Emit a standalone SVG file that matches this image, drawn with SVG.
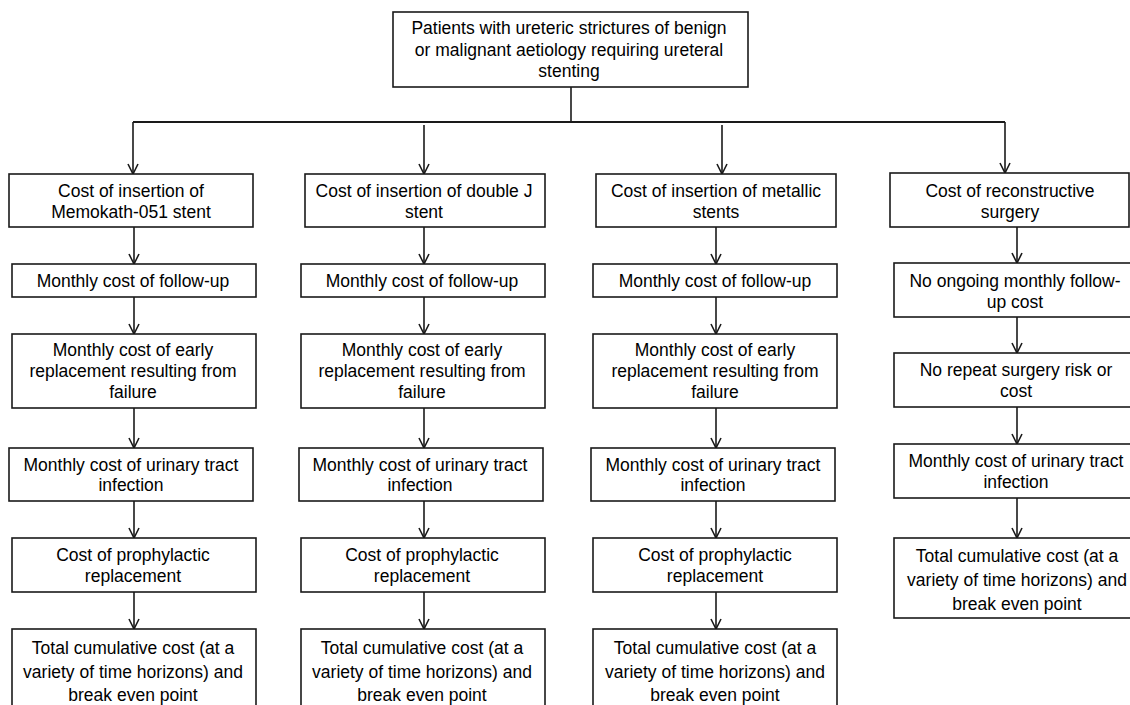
<svg xmlns="http://www.w3.org/2000/svg" width="1130" height="705" viewBox="0 0 1130 705">
<style>
.box{fill:#fff;stroke:#1a1a1a;stroke-width:1.6}
.t{font-family:"Liberation Sans",Arial,sans-serif;font-size:17.5px;fill:#000;text-anchor:middle}
.c{fill:none;stroke:#1a1a1a;stroke-width:1.6}
.h{fill:none;stroke:#1a1a1a;stroke-width:2.2}
</style>
<defs>
<marker id="arr" viewBox="0 0 12 12" refX="11" refY="6" markerWidth="12" markerHeight="12" markerUnits="userSpaceOnUse" orient="auto">
<path d="M1,1 L11,6 L1,11" fill="none" stroke="#1a1a1a" stroke-width="1.6"/>
</marker>
</defs>
<rect width="1130" height="705" fill="#fff"/>

<g id="connectors">
<path class="c" d="M571,87 V122"/>
<path class="h" d="M133,122 H1005"/>
<path class="c" d="M133,122 V174" marker-end="url(#arr)"/>
<path class="c" d="M424,125 V174" marker-end="url(#arr)"/>
<path class="c" d="M722,125 V174" marker-end="url(#arr)"/>
<path class="c" d="M1005,122 V173" marker-end="url(#arr)"/>

<path class="c" d="M134,227 V264" marker-end="url(#arr)"/>
<path class="c" d="M134,297 V334" marker-end="url(#arr)"/>
<path class="c" d="M134,408 V448" marker-end="url(#arr)"/>
<path class="c" d="M134,501 V538" marker-end="url(#arr)"/>
<path class="c" d="M134,592 V629" marker-end="url(#arr)"/>

<path class="c" d="M424,227 V264" marker-end="url(#arr)"/>
<path class="c" d="M424,297 V334" marker-end="url(#arr)"/>
<path class="c" d="M424,408 V448" marker-end="url(#arr)"/>
<path class="c" d="M424,501 V538" marker-end="url(#arr)"/>
<path class="c" d="M424,592 V629" marker-end="url(#arr)"/>

<path class="c" d="M716,227 V264" marker-end="url(#arr)"/>
<path class="c" d="M716,297 V334" marker-end="url(#arr)"/>
<path class="c" d="M716,408 V448" marker-end="url(#arr)"/>
<path class="c" d="M716,501 V538" marker-end="url(#arr)"/>
<path class="c" d="M716,592 V629" marker-end="url(#arr)"/>

<path class="c" d="M1017,227 V263" marker-end="url(#arr)"/>
<path class="c" d="M1017,317 V353" marker-end="url(#arr)"/>
<path class="c" d="M1017,407 V444" marker-end="url(#arr)"/>
<path class="c" d="M1017,498 V538" marker-end="url(#arr)"/>
</g>

<g id="root">
<rect class="box" x="393" y="12" width="355" height="75"/>
<text class="t" x="569" y="34">Patients with ureteric strictures of benign</text>
<text class="t" x="569" y="56">or malignant aetiology requiring ureteral</text>
<text class="t" x="569" y="77">stenting</text>
</g>

<!-- Column 1 -->
<g id="c1r1">
<rect class="box" x="9" y="174" width="244" height="53"/>
<text class="t" x="131" y="197">Cost of insertion of</text>
<text class="t" x="131" y="218">Memokath-051 stent</text>
</g>
<g id="c1r2">
<rect class="box" x="12" y="264" width="244" height="33"/>
<text class="t" x="133" y="287">Monthly cost of follow-up</text>
</g>
<g id="c1r3">
<rect class="box" x="12" y="334" width="244" height="74"/>
<text class="t" x="133" y="356">Monthly cost of early</text>
<text class="t" x="133" y="377">replacement resulting from</text>
<text class="t" x="133" y="398">failure</text>
</g>
<g id="c1r4">
<rect class="box" x="9" y="448" width="244" height="53"/>
<text class="t" x="131" y="471">Monthly cost of urinary tract</text>
<text class="t" x="131" y="491">infection</text>
</g>
<g id="c1r5">
<rect class="box" x="12" y="538" width="244" height="54"/>
<text class="t" x="133" y="561">Cost of prophylactic</text>
<text class="t" x="133" y="582">replacement</text>
</g>
<g id="c1r6">
<rect class="box" x="12" y="629" width="244" height="90"/>
<text class="t" x="133" y="654">Total cumulative cost (at a</text>
<text class="t" x="133" y="678">variety of time horizons) and</text>
<text class="t" x="133" y="701">break even point</text>
</g>

<!-- Column 2 -->
<g id="c2r1">
<rect class="box" x="305" y="174" width="240" height="53"/>
<text class="t" x="424" y="197">Cost of insertion of double J</text>
<text class="t" x="424" y="218">stent</text>
</g>
<g id="c2r2">
<rect class="box" x="301" y="264" width="244" height="33"/>
<text class="t" x="422" y="287">Monthly cost of follow-up</text>
</g>
<g id="c2r3">
<rect class="box" x="301" y="334" width="244" height="74"/>
<text class="t" x="422" y="356">Monthly cost of early</text>
<text class="t" x="422" y="377">replacement resulting from</text>
<text class="t" x="422" y="398">failure</text>
</g>
<g id="c2r4">
<rect class="box" x="299" y="448" width="244" height="53"/>
<text class="t" x="420" y="471">Monthly cost of urinary tract</text>
<text class="t" x="420" y="491">infection</text>
</g>
<g id="c2r5">
<rect class="box" x="301" y="538" width="244" height="54"/>
<text class="t" x="422" y="561">Cost of prophylactic</text>
<text class="t" x="422" y="582">replacement</text>
</g>
<g id="c2r6">
<rect class="box" x="301" y="629" width="244" height="90"/>
<text class="t" x="422" y="654">Total cumulative cost (at a</text>
<text class="t" x="422" y="678">variety of time horizons) and</text>
<text class="t" x="422" y="701">break even point</text>
</g>

<!-- Column 3 -->
<g id="c3r1">
<rect class="box" x="596" y="174" width="240" height="53"/>
<text class="t" x="716" y="197">Cost of insertion of metallic</text>
<text class="t" x="716" y="218">stents</text>
</g>
<g id="c3r2">
<rect class="box" x="593" y="264" width="244" height="33"/>
<text class="t" x="715" y="287">Monthly cost of follow-up</text>
</g>
<g id="c3r3">
<rect class="box" x="593" y="334" width="244" height="74"/>
<text class="t" x="715" y="356">Monthly cost of early</text>
<text class="t" x="715" y="377">replacement resulting from</text>
<text class="t" x="715" y="398">failure</text>
</g>
<g id="c3r4">
<rect class="box" x="591" y="448" width="244" height="53"/>
<text class="t" x="713" y="471">Monthly cost of urinary tract</text>
<text class="t" x="713" y="491">infection</text>
</g>
<g id="c3r5">
<rect class="box" x="593" y="538" width="244" height="54"/>
<text class="t" x="715" y="561">Cost of prophylactic</text>
<text class="t" x="715" y="582">replacement</text>
</g>
<g id="c3r6">
<rect class="box" x="593" y="629" width="244" height="90"/>
<text class="t" x="715" y="654">Total cumulative cost (at a</text>
<text class="t" x="715" y="678">variety of time horizons) and</text>
<text class="t" x="715" y="701">break even point</text>
</g>

<!-- Column 4 -->
<g id="c4r1">
<rect class="box" x="890" y="173" width="239" height="54"/>
<text class="t" x="1010" y="197">Cost of reconstructive</text>
<text class="t" x="1010" y="218">surgery</text>
</g>
<g id="c4r2">
<rect class="box" x="894" y="263" width="242" height="54"/>
<text class="t" x="1015" y="287">No ongoing monthly follow-</text>
<text class="t" x="1015" y="308">up cost</text>
</g>
<g id="c4r3">
<rect class="box" x="894" y="353" width="242" height="54"/>
<text class="t" x="1016" y="376">No repeat surgery risk or</text>
<text class="t" x="1016" y="397">cost</text>
</g>
<g id="c4r4">
<rect class="box" x="894" y="444" width="242" height="54"/>
<text class="t" x="1016" y="467">Monthly cost of urinary tract</text>
<text class="t" x="1016" y="488">infection</text>
</g>
<g id="c4r5">
<rect class="box" x="894" y="538" width="242" height="80"/>
<text class="t" x="1017" y="562">Total cumulative cost (at a</text>
<text class="t" x="1017" y="586">variety of time horizons) and</text>
<text class="t" x="1017" y="610">break even point</text>
</g>
</svg>
